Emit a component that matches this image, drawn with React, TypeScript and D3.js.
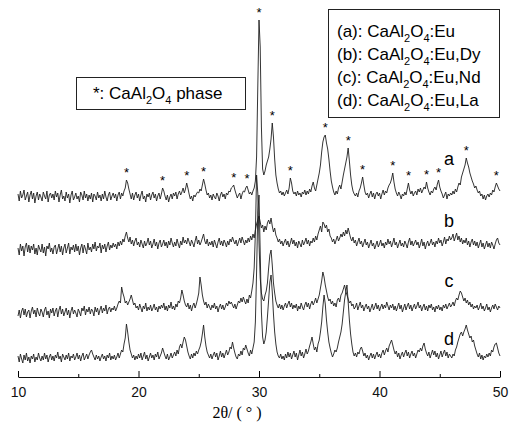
import React, { useEffect, useRef } from "react";
import * as d3 from "d3";

// 2theta sampling of the diffractograms
const angleStart = 10;
const angleStep = 0.1;

// intensities (a.u.) above each pattern's own baseline, 10.0 .. 50.0 deg, one row per degree
const seriesA = [
  3, -4, 6, -1, 2, 7, -3, 1, 5, -5,
  2, 6, -2, 4, -6, 1, 5, -3, 3, 0,
  -4, 5, 1, -2, 6, -5, 2, 4, -1, 3,
  -3, 6, 0, 4, -5, 2, 7, -2, 1, -4,
  5, -1, 3, -6, 2, 6, -3, 0, 4, -2,
  1, -5, 5, 2, -3, 6, -1, 3, -4, 2,
  -2, 4, -5, 3, 1, -3, 5, -1, 2, -4,
  3, -2, 6, 0, -4, 2, 5, -3, 1, 4,
  -1, 3, -4, 2, 5, -2, 4, 1, 6, 9,
  17, 14, 8, 3, -2, 4, -3, 2, 5, -1,
  3, -4, 2, 6, -2, 1, -5, 3, 0, 4,
  -3, 2, 5, -1, 3, -4, 1, 4, -2, 3,
  9, 6, 1, -3, 2, -5, 0, 3, -2, 4,
  1, 5, -2, 3, 6, 2, 5, 9, 4, 8,
  14, 9, 3, -2, 1, -4, 2, 0, 3, 5,
  4, 8, 6, 12, 18, 13, 7, 2, 4, -1,
  2, -3, 3, 0, -2, 4, 1, -4, 2, 5,
  0, 3, -2, 4, 2, 6, 5, 9, 10, 12,
  7, 3, -1, 2, 4, -2, 3, 6, 5, 9,
  11, 7, 3, 5, 2, 6, 9, 16, 40, 110,
  177, 150, 70, 28, 22, 26, 32, 36, 40, 48,
  58, 74, 60, 38, 22, 14, 8, 4, 6, 2,
  5, 1, 4, 7, 3, 9, 19, 14, 6, 3,
  5, 1, 6, 2, 4, 0, 5, 3, 7, 2,
  6, 3, 8, 5, 11, 15, 9, 6, 12, 18,
  24, 32, 45, 55, 60, 62, 54, 48, 38, 26,
  16, 10, 5, 2, 6, 3, 9, 12, 8, 15,
  22, 28, 34, 40, 49, 36, 22, 12, 6, 3,
  1, 4, 0, 6, 9, 14, 20, 12, 5, 2,
  4, -1, 3, 6, 0, 4, -2, 3, 5, 1,
  4, -2, 3, 7, 2, 6, 4, 9, 12, 14,
  18, 24, 15, 8, 4, 1, 5, 2, -2, 3,
  1, 5, 2, 8, 14, 7, 3, 6, 1, 4,
  6, 2, 8, 5, 9, 4, 7, 10, 8, 15,
  9, 5, 2, 6, 4, 8, 10, 7, 13, 17,
  10, 6, 3, -1, 2, 5, -2, 3, 1, 4,
  2, 6, 3, 8, 5, 10, 14, 12, 20, 24,
  28, 32, 39, 34, 30, 24, 20, 16, 13, 9,
  11, 7, 4, 6, 1, 3, -2, 2, -3, 1,
  3, 0, 4, 2, 7, 5, 10, 14, 11, 8,
  6,
];

const seriesB = [
  2, -5, 6, -1, 4, -6, 3, 7, -2, 5,
  -3, 4, 0, 6, -4, 2, -5, 5, 1, -2,
  6, -3, 3, -6, 4, 1, 7, -2, 2, -4,
  3, 5, -4, 1, 6, -2, 4, -5, 2, 6,
  -3, 2, 7, -4, 3, 0, 5, -2, 6, -1,
  4, -5, 2, 6, -3, 5, 1, -4, 7, 0,
  3, -2, 6, 1, 8, -1, 4, 2, 7, -3,
  5, 1, 6, -2, 4, 8, 0, 5, 2, 7,
  3, 6, 1, 8, 4, 9, 5, 11, 8, 14,
  18, 12, 8, 13, 6, 10, 4, 9, 12, 5,
  8, 3, 10, 6, 2, 9, 4, 7, 12, 5,
  9, 2, 6, 11, 4, 8, 1, 7, 10, 3,
  6, 10, 4, 8, 2, 9, 5, 12, 7, 3,
  8, 4, 11, 6, 2, 9, 5, 13, 7, 10,
  6, 12, 8, 4, 10, 7, 3, 9, 14, 6,
  10, 5, 8, 12, 16, 9, 6, 11, 4, 8,
  5, 9, 3, 10, 6, 2, 8, 12, 5, 9,
  4, 10, 7, 3, 9, 5, 11, 8, 13, 9,
  6, 10, 4, 8, 12, 7, 13, 9, 5, 10,
  7, 12, 8, 14, 10, 16, 12, 20, 26, 30,
  34, 28, 22, 25, 18, 24, 20, 27, 30, 26,
  32, 24, 18, 22, 15, 12, 8, 11, 6, 9,
  4, 8, 11, 5, 9, 3, 7, 12, 6, 10,
  4, 8, 2, 9, 6, 3, 10, 5, 8, 12,
  6, 10, 4, 9, 7, 12, 8, 14, 10, 16,
  20, 24, 18, 28, 26, 22, 25, 18, 21, 14,
  12, 8, 11, 6, 10, 14, 9, 12, 16, 13,
  18, 14, 20, 16, 22, 17, 12, 9, 13, 7,
  10, 4, 8, 12, 6, 9, 3, 7, 11, 5,
  8, 2, 6, 10, 4, 7, 1, 5, 9, 3,
  6, 10, 4, 7, 2, 8, 5, 11, 6, 9,
  3, 7, 12, 5, 8, 2, 6, 10, 4, 7,
  3, 9, 6, 2, 8, 12, 5, 9, 4, 7,
  10, 5, 8, 2, 6, 11, 4, 8, 1, 6,
  9, 4, 7, 11, 5, 8, 3, 9, 6, 12,
  7, 10, 4, 8, 13, 6, 11, 9, 14, 10,
  12, 16, 9, 13, 17, 10, 14, 8, 12, 6,
  10, 7, 12, 5, 9, 3, 8, 11, 5, 9,
  4, 8, 2, 6, 10, 3, 7, 1, 5, 9,
  3, 7, 2, 8, 5, 1, 6, 10, 12, 7,
  5,
];

const seriesC = [
  -3, 3, -5, 2, 5, -2, 4, -4, 1, 3,
  -5, 2, 6, -1, 3, -4, 5, 0, -3, 4,
  1, -4, 3, 6, -2, 2, -5, 4, 0, 5,
  -3, 2, 5, -4, 3, 7, -1, 4, -3, 1,
  5, -2, 3, -5, 2, 6, -1, 3, 0, -4,
  4, 1, -3, 5, 2, 7, -2, 4, 1, 6,
  -1, 4, 2, -3, 6, 1, 5, -2, 3, 7,
  0, 5, 2, 8, -1, 4, 6, 1, 5, 3,
  7, 2, 5, 9, 12, 10, 26, 20, 16, 10,
  12, 8, 11, 14, 18, 13, 8, 10, 5, 7,
  3, 9, 5, 1, 7, 4, 10, 2, 6, 3,
  8, 2, 5, 9, 3, 6, 1, 7, 4, 8,
  5, 10, 3, 7, 2, 8, 5, 11, 4, 7,
  3, 9, 6, 12, 10, 15, 23, 18, 12, 8,
  6, 10, 4, 8, 2, 7, 10, 5, 9, 14,
  20, 36, 28, 18, 12, 8, 11, 5, 9, 6,
  3, 8, 5, 10, 4, 7, 1, 6, 9, 4,
  8, 3, 6, 10, 7, 12, 9, 11, 8, 5,
  9, 4, 8, 12, 10, 15, 11, 16, 12, 9,
  14, 10, 18, 15, 22, 30, 45, 80, 138, 120,
  70, 35, 20, 14, 12, 18, 22, 30, 45, 58,
  63, 48, 30, 20, 12, 8, 5, 9, 4, 8,
  3, 7, 10, 5, 9, 12, 6, 10, 4, 8,
  5, 9, 2, 7, 4, 10, 6, 3, 8, 11,
  6, 10, 4, 9, 12, 8, 11, 15, 10, 14,
  18, 25, 32, 41, 36, 28, 22, 16, 12, 14,
  9, 12, 7, 10, 6, 13, 15, 11, 18, 20,
  24, 28, 22, 18, 14, 10, 12, 7, 9, 4,
  6, 10, 3, 7, 11, 5, 8, 2, 6, 9,
  4, 7, 1, 5, 9, 3, 6, 10, 4, 8,
  2, 6, 9, 4, 8, 5, 11, 7, 3, 8,
  5, 9, 3, 7, 2, 6, 10, 4, 8, 1,
  5, 9, 3, 7, 10, 4, 8, 2, 6, 9,
  4, 7, 11, 5, 8, 2, 6, 9, 3, 7,
  2, 8, 5, 9, 3, 6, 1, 7, 4, 8,
  3, 6, 2, 8, 5, 9, 4, 7, 10, 6,
  8, 11, 7, 12, 15, 13, 18, 22, 20, 16,
  12, 15, 10, 13, 8, 11, 6, 9, 4, 7,
  5, 8, 3, 6, 10, 4, 7, 2, 5, 9,
  3, 6, 1, 5, 8, 4, 9, 6, 3, 7,
  5,
];

const seriesD = [
  6, 0, 8, 3, -1, 7, 2, 9, 1, 5,
  -1, 6, 3, 8, 0, 5, 2, 9, 4, 1,
  6, 2, 9, 3, 7, 0, 5, 8, 2, 6,
  1, 7, 4, 10, 3, 6, 0, 8, 5, 2,
  7, 3, 9, 1, 6, 4, 8, 2, 5, 9,
  3, 7, 1, 6, 9, 2, 5, 8, 3, 7,
  10, 12, 8, 5, 2, 7, 3, 6, 1, 5,
  8, 3, 6, 1, 7, 4, 9, 2, 6, 3,
  7, 2, 5, 9, 4, 8, 12, 10, 18, 24,
  38, 30, 20, 12, 8, 4, 7, 2, 6, 3,
  8, 4, 9, 2, 6, 10, 3, 7, 1, 5,
  9, 4, 7, 2, 8, 5, 10, 3, 6, 9,
  14, 10, 6, 3, 8, 2, 5, 9, 4, 7,
  10, 6, 12, 8, 15, 18, 14, 20, 25, 22,
  16, 10, 6, 3, 8, 4, 9, 6, 11, 8,
  12, 15, 20, 28, 37, 25, 16, 10, 7, 4,
  8, 3, 7, 10, 5, 9, 2, 6, 11, 5,
  9, 4, 8, 12, 7, 10, 15, 13, 20, 14,
  9, 5, 3, 8, 6, 11, 7, 14, 12, 17,
  13, 9, 6, 12, 8, 14, 20, 40, 90, 150,
  167, 110, 50, 25, 18, 22, 30, 45, 62, 80,
  87, 70, 48, 30, 18, 10, 6, 4, 8, 3,
  6, 2, 8, 4, 10, 5, 9, 3, 7, 11,
  5, 9, 2, 7, 12, 6, 10, 4, 8, 13,
  8, 11, 16, 20, 25, 18, 12, 15, 10, 18,
  22, 30, 40, 55, 67, 58, 42, 30, 20, 14,
  9, 5, 8, 12, 10, 14, 20, 25, 30, 38,
  50, 62, 70, 77, 60, 42, 28, 18, 10, 6,
  9, 5, 10, 8, 13, 15, 11, 6, 9, 4,
  7, 2, 6, 9, 4, 8, 3, 7, 10, 5,
  8, 4, 9, 12, 7, 11, 14, 10, 16, 19,
  22, 17, 12, 8, 11, 5, 9, 3, 7, 10,
  5, 9, 12, 6, 10, 4, 8, 11, 6, 9,
  4, 8, 12, 10, 14, 11, 16, 19, 13, 9,
  6, 10, 4, 8, 12, 7, 11, 5, 9, 3,
  7, 11, 5, 9, 12, 6, 10, 4, 8, 6,
  4, 8, 6, 12, 15, 20, 24, 28, 30, 26,
  30, 33, 37, 32, 28, 24, 26, 20, 22, 16,
  12, 8, 5, 9, 3, 7, 2, 6, 4, 8,
  5, 9, 6, 12, 10, 15, 18, 19, 14, 9,
  6,
];

const curveNames = ["a", "b", "c", "d"];
const curveOffsets = [180, 127, 64, 15];

// CaAl2O4 reflections marked on pattern (a)
const phasePeaks = [19.0, 22.0, 24.0, 25.4, 27.9, 29.0, 30.0, 31.1, 32.6, 35.5,
  37.4, 38.6, 41.1, 42.4, 43.9, 44.9, 47.2, 49.7];

const majorTicks = [10, 20, 30, 40, 50];
const minorTicks = [15, 25, 35, 45];

const legendRows = [
  ["(a): CaAl", "2", "O", "4", ":Eu"],
  ["(b): CaAl", "2", "O", "4", ":Eu,Dy"],
  ["(c): CaAl", "2", "O", "4", ":Eu,Nd"],
  ["(d): CaAl", "2", "O", "4", ":Eu,La"],
];

const W = 509;
const H = 429;
const sans = "'Liberation Sans', Arial, sans-serif";

export default function App() {
  const svgRef = useRef<SVGSVGElement>(null);

  useEffect(() => {
    const svg = d3.select(svgRef.current);
    svg.selectAll("*").remove();

    const x = d3.scaleLinear().domain([10, 50]).range([18, 500]);
    const y = d3.scaleLinear().domain([0, 370]).range([377, 7]);

    const all = [seriesA, seriesB, seriesC, seriesD];

    all.forEach((s, k) => {
      const line = d3
        .line<number>()
        .x((_, i) => x(angleStart + i * angleStep))
        .y((v) => y(v + curveOffsets[k]));
      svg
        .append("path")
        .attr("d", line(s))
        .attr("fill", "none")
        .attr("stroke", "#1e1e1e")
        .attr("stroke-width", 0.9)
        .attr("stroke-linejoin", "round");
    });

    // curve labels
    const labelY = [165, 227, 287, 345];
    curveNames.forEach((n, k) => {
      svg
        .append("text")
        .attr("x", 449)
        .attr("y", labelY[k])
        .attr("text-anchor", "middle")
        .attr("font-family", sans)
        .attr("font-size", 18)
        .text(n);
    });

    // stars above pattern (a)
    phasePeaks.forEach((p) => {
      const i0 = Math.round((p - angleStart) / angleStep);
      const top = d3.max(seriesA.slice(Math.max(0, i0 - 1), i0 + 2)) as number;
      svg
        .append("text")
        .attr("x", x(p))
        .attr("y", y(top + curveOffsets[0]) - 3)
        .attr("text-anchor", "middle")
        .attr("font-family", sans)
        .attr("font-size", 13)
        .text("*");
    });

    // bottom axis, ticks pointing inward
    const axis = svg.append("g").attr("transform", "translate(0,377)");
    axis
      .call(
        d3
          .axisBottom(x)
          .tickValues(majorTicks)
          .tickSize(-6)
          .tickSizeOuter(0)
          .tickPadding(10)
      )
      .call((g) => g.selectAll("text").attr("font-size", 14).attr("font-family", sans).attr("fill", "#111"));
    axis.select(".domain").attr("stroke", "#111");
    svg
      .append("g")
      .attr("transform", "translate(0,377)")
      .call(d3.axisBottom(x).tickValues(minorTicks).tickSize(-3).tickFormat(() => ""))
      .call((g) => g.select(".domain").remove());

    svg
      .append("text")
      .attr("x", 237)
      .attr("y", 418)
      .attr("text-anchor", "middle")
      .attr("font-family", "'Liberation Serif', 'Times New Roman', serif")
      .attr("font-size", 16)
      .text("2θ/ ( ° )");

    // phase legend
    svg
      .append("rect")
      .attr("x", 76.5)
      .attr("y", 77.5)
      .attr("width", 169)
      .attr("height", 32)
      .attr("fill", "white")
      .attr("stroke", "#222");
    const ph = svg
      .append("text")
      .attr("x", 93)
      .attr("y", 99)
      .attr("font-family", sans)
      .attr("font-size", 17);
    ph.append("tspan").text("*: CaAl");
    ph.append("tspan").attr("dy", 5).attr("font-size", 11).text("2");
    ph.append("tspan").attr("dy", -5).text("O");
    ph.append("tspan").attr("dy", 5).attr("font-size", 11).text("4");
    ph.append("tspan").attr("dy", -5).text(" phase");

    // sample legend
    svg
      .append("rect")
      .attr("x", 328.5)
      .attr("y", 9.5)
      .attr("width", 171)
      .attr("height", 108)
      .attr("fill", "white")
      .attr("stroke", "#222");
    legendRows.forEach((r, k) => {
      const t = svg
        .append("text")
        .attr("x", 337)
        .attr("y", 37 + k * 23)
        .attr("font-family", sans)
        .attr("font-size", 17);
      t.append("tspan").text(r[0]);
      t.append("tspan").attr("dy", 5).attr("font-size", 11).text(r[1]);
      t.append("tspan").attr("dy", -5).text(r[2]);
      t.append("tspan").attr("dy", 5).attr("font-size", 11).text(r[3]);
      t.append("tspan").attr("dy", -5).text(r[4]);
    });
  }, []);

  return (
    <svg
      ref={svgRef}
      width={W}
      height={H}
      style={{ position: "absolute", left: 0, top: 0, background: "white" }}
    />
  );
}
